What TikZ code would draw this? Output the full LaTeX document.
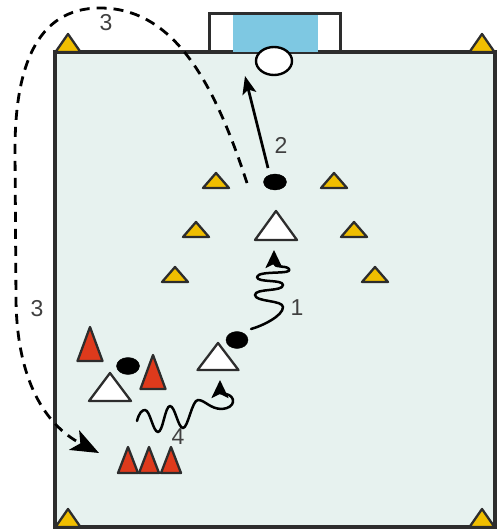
\documentclass[tikz,border=0pt]{standalone}
\usepackage{fontspec}
\setmainfont{Liberation Sans}
\usetikzlibrary{arrows.meta,shapes.geometric}

\definecolor{pitch}{RGB}{231,242,239}
\definecolor{goalblue}{RGB}{126,200,226}
\definecolor{coneyellow}{RGB}{240,190,0}
\definecolor{conered}{RGB}{222,58,28}
\definecolor{edge}{RGB}{45,45,45}
\definecolor{labelgray}{RGB}{64,64,64}

\tikzset{
  x=1pt, y=-1pt,
  % cone: base centred at the pic origin, apex above it
  pics/cone/.style n args={3}{code={
    \draw[edge, line width=2.3pt, line join=round, fill=#3]
      (-#1/2,0) -- (0,-#2) -- (#1/2,0) -- cycle;}},
  ball/.style={ellipse, draw=black, fill=black, inner sep=0pt},
  goalball/.style={ellipse, draw=black, line width=2.4pt, fill=white,
    minimum width=36pt, minimum height=28pt, inner sep=0pt},
  pass/.style={line width=2.7pt, -{Stealth[length=18pt,width=14pt,inset=4pt]}},
  run/.style={line width=2.8pt, dash pattern=on 10pt off 7pt,
    -{Stealth[length=28pt,width=22pt,inset=7pt]}},
  dribble/.style={line width=2.5pt, line cap=round, line join=round,
    -{Stealth[length=18pt,width=17pt,inset=4pt]}},
  lbl/.style={text=labelgray, font=\fontsize{23}{23}\selectfont, inner sep=0pt},
}

\begin{document}
\begin{tikzpicture}
\useasboundingbox (0,0) rectangle (499,530);

% pitch
\draw[edge, line width=3.5pt, fill=pitch] (55,52) rectangle (495,527);

% goal
\fill[goalblue] (233,13) rectangle (318,52);
\draw[edge, line width=3pt] (209,52) -- (209,13) -- (340,13) -- (340,52);
\node[goalball] (gball) at (274,61) {};

% corner cones
\pic at (68,52)  {cone={25}{18}{coneyellow}};
\pic at (482,52) {cone={25}{18}{coneyellow}};
\pic at (68,527) {cone={25}{18}{coneyellow}};
\pic at (482,527) {cone={25}{18}{coneyellow}};

% funnel of cones
\pic at (216,188) {cone={26}{15}{coneyellow}};
\pic at (334,188) {cone={26}{15}{coneyellow}};
\pic at (196,237) {cone={26}{15}{coneyellow}};
\pic at (354,237) {cone={26}{15}{coneyellow}};
\pic at (175,282) {cone={26}{15}{coneyellow}};
\pic at (375,282) {cone={26}{15}{coneyellow}};

% defenders
\pic at (90,361)  {cone={25}{34}{conered}};
\pic at (153,389) {cone={25}{34}{conered}};
\pic at (128,473) {cone={20}{26}{conered}};
\pic at (149,473) {cone={20}{26}{conered}};
\pic at (171,473) {cone={20}{26}{conered}};

% attackers
\pic at (276,240) {cone={42}{29}{white}};
\pic at (110,401) {cone={42}{28}{white}};
\pic at (218,370) {cone={41}{27}{white}};

% balls
\node[ball, minimum width=23pt, minimum height=16pt] (b1) at (275,182) {};
\node[ball, minimum width=23pt, minimum height=17pt] (bL) at (128,366) {};
\node[ball, minimum width=22pt, minimum height=17pt] (bM) at (237,340) {};

% 2: shot on goal
\coordinate (s2) at (268,168);
\coordinate (e2) at (245,76);
\draw[pass] (s2) -- (e2);

% 3: run round the outside
\coordinate (r3s) at (247,183);
\coordinate (r3t) at (100,8);
\coordinate (r3l) at (15,150);
\coordinate (r3m) at (16,300);
\coordinate (r3e) at (99,453);
\draw[run] (r3s) .. controls (215,85) and (175,8) .. (r3t)
  .. controls (35,8) and (15,70) .. (r3l)
  -- (r3m)
  .. controls (17,380) and (45,425) .. (r3e);

% 1: dribble up the middle
\coordinate (d1s) at (251,329);
\coordinate (d1e) at (274,250);
\draw[dribble] (d1s)
  .. controls (262,326) and (283,316) .. (283,307)
  .. controls (283,300) and (255,302) .. (255,295)
  .. controls (255,288) and (283,292) .. (283,285)
  .. controls (283,279) and (257,283) .. (257,277)
  .. controls (258,270) and (294,275) .. (289,269)
  .. controls (286,265) and (274,268) .. (d1e);

% 4: dribble across
\coordinate (d4s) at (137,421);
\coordinate (d4e) at (220,380);
\draw[dribble] (d4s)
  .. controls (139,413) and (142,410) .. (145,410)
  .. controls (150,410) and (153,432) .. (158,432)
  .. controls (163,432) and (165,406) .. (170,406)
  .. controls (175,406) and (178,428) .. (183,428)
  .. controls (188,428) and (192,400) .. (198,400)
  .. controls (205,400) and (210,409) .. (222,409)
  .. controls (236,408) and (236,396) .. (226,394)
  .. controls (221,393) and (220,392) .. (d4e);

% labels
\node[lbl] (l3a) at (106,23) {3};
\node[lbl] (l2) at (281,145) {2};
\node[lbl] (l1) at (297,308) {1};
\node[lbl] (l3b) at (37,309) {3};
\node[lbl] (l4) at (178,437) {4};
\end{tikzpicture}
\end{document}
